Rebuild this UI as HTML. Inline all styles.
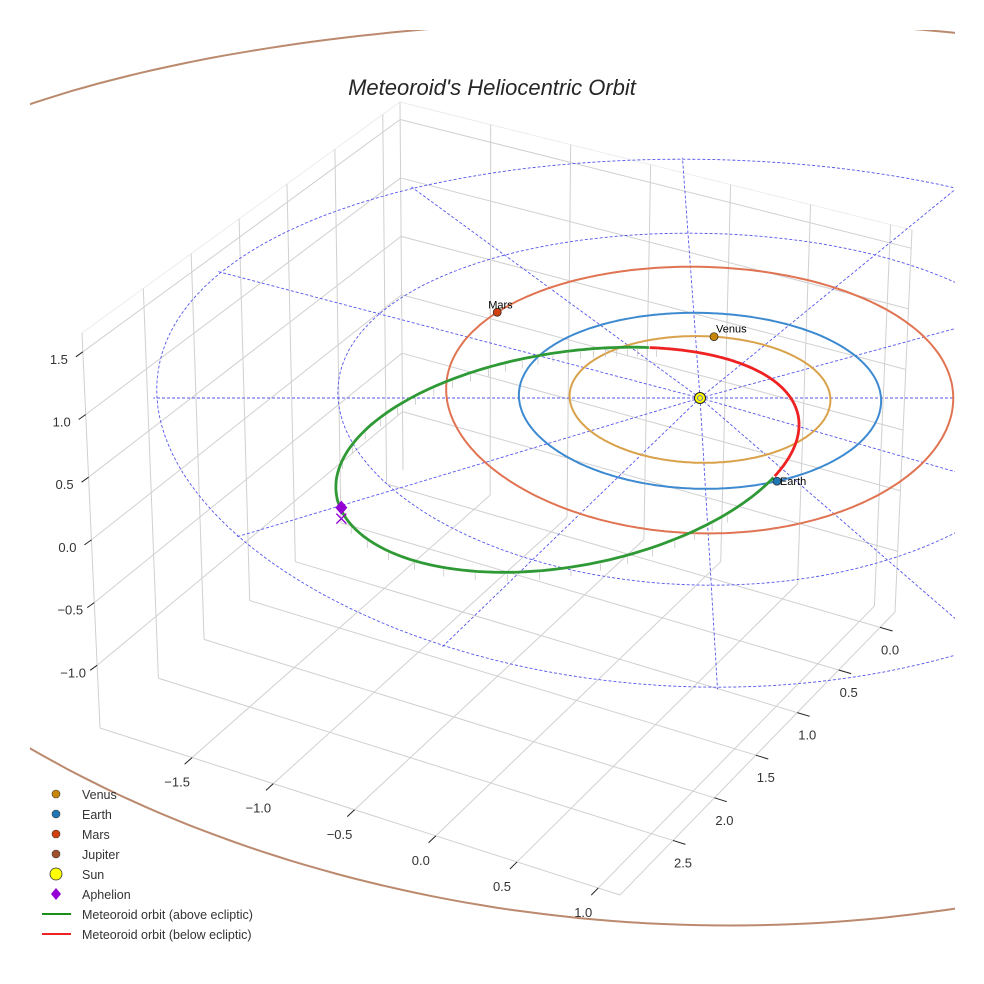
<!DOCTYPE html>
<html><head><meta charset="utf-8"><style>
html,body{margin:0;padding:0;background:#fff}
svg{display:block;font-family:"Liberation Sans",sans-serif}
</style></head><body>
<svg id="chart" xmlns="http://www.w3.org/2000/svg" width="984" height="984" viewBox="0 0 984 984">
<defs><clipPath id="clipArea"><rect x="30" y="30" width="925" height="900"/></clipPath></defs>
<rect width="984" height="984" fill="#fff"/>
<g id="box"></g>
<g id="plane" clip-path="url(#clipArea)"></g>
<text x="492" y="95" text-anchor="middle" font-size="22" font-style="italic" fill="#262626">Meteoroid's Heliocentric Orbit</text>
<g id="legend"></g>
</svg>
<script>
// ---- data ----
const xTicks = [-1.5, -1.0, -0.5, 0.0, 0.5, 1.0];
const yTicks = [0.0, 0.5, 1.0, 1.5, 2.0, 2.5];
const zTicks = [-1.0, -0.5, 0.0, 0.5, 1.0, 1.5];
const xRange = [-2.067, 1.134];
const yRange = [3.14, -0.18];
const zRange = [-1.5, 1.65];
const gridRings = [1, 2, 3];
const spokeAngles = [0, 30, 60, 90, 120, 150, 180, 210, 240, 270, 300, 330];
const planetNames = ["Venus", "Earth", "Mars", "Jupiter"];
const orbitSemiX = [0.72, 1.0, 1.40, 5.3];
const orbitSemiY = [0.72, 1.0, 1.52, 5.15];
const orbitOffY = [0, 0, -0.05, 0];
const planetAngle = [-82, 66.7, -141, null];
const meteorElements = [0.763, 0.686, -40.4]; // semi-latus rectum, eccentricity, perihelion angle
const belowNodes = [-114, 66.7];
const aphelionPoint = [-2.02, 1.2];

const NS = "http://www.w3.org/2000/svg";
function mk(parent, tag, attrs) {
  const e = document.createElementNS(NS, tag);
  for (const k in attrs) e.setAttribute(k, attrs[k]);
  parent.appendChild(e);
  return e;
}
function px(X, Y) { return 700 + 181 * X + 5.8 * Y; }
function py(X, Y) { return 398 + 88 * Y + 2.8 * Y * Y; }

// ---- box ----
const box = document.getElementById('box');
const Lb = [100, 728], Bb = [403, 470], Rb = [895, 612], Fb = [620, 895];
const Lt = [82, 333], Bt = [400, 102], Rt = [912, 230];
const lerp = (a, b, t) => [a[0] + (b[0] - a[0]) * t, a[1] + (b[1] - a[1]) * t];
function Q(u, s) { return lerp(lerp(Lb, Fb, u), lerp(Bb, Rb, u), s); }
const uOf = x => (x - xRange[0]) / (xRange[1] - xRange[0]);
const vOf = y => (y - yRange[0]) / (yRange[1] - yRange[0]);
const fOf = z => (z - zRange[0]) / (zRange[1] - zRange[0]);
function line(p, a, b, col, w, name) {
  const l = mk(p, 'line', {x1: a[0], y1: a[1], x2: b[0], y2: b[1], stroke: col, 'stroke-width': w});
  
  
  return l;
}
const gc = '#d0d0d0';
line(box, Lt, Bt, '#ececec', 1, 'pane-edge'); line(box, Bt, Rt, '#ececec', 1, 'pane-edge');
line(box, Lt, Lb, gc, 1, 'pane-edge'); line(box, Bt, Bb, gc, 1, 'pane-edge'); line(box, Rt, Rb, gc, 1, 'pane-edge');
line(box, Lb, Fb, gc, 1, 'pane-edge'); line(box, Fb, Rb, gc, 1, 'pane-edge');
zTicks.forEach(z => {
  const f = fOf(z);
  const a = lerp(Lb, Lt, f), b = lerp(Bb, Bt, f), c = lerp(Rb, Rt, f);
  line(box, a, b, gc, 1, 'z-gridline'); line(box, b, c, gc, 1, 'z-gridline');
  line(box, a, [a[0] - 7, a[1] + 5], '#222', 1, 'z-tick');
  const t = mk(box, 'text', {x: a[0] - 24, y: a[1] + 12, 'text-anchor': 'middle', 'font-size': 13, fill: '#333'});
  t.textContent = z.toFixed(1).replace('-', '\u2212');
  
  
});
xTicks.forEach(x => {
  const u = uOf(x);
  const a = Q(u, 0), b = Q(u, 1);
  line(box, a, b, gc, 1, 'x-gridline');
  line(box, b, lerp(Bt, Rt, u), gc, 1, 'x-gridline');
  const d = [a[0] - b[0], a[1] - b[1]], n = Math.hypot(d[0], d[1]);
  line(box, a, [a[0] + d[0] / n * 10, a[1] + d[1] / n * 10], '#222', 1, 'x-tick');
  const t = mk(box, 'text', {x: a[0] - 15, y: a[1] + 29, 'text-anchor': 'middle', 'font-size': 13, fill: '#333'});
  t.textContent = x.toFixed(1).replace('-', '\u2212');
  
  
});
yTicks.forEach(y => {
  const v = vOf(y);
  const a = Q(1, v), b = Q(0, v);
  line(box, a, b, gc, 1, 'y-gridline');
  line(box, b, lerp(Lt, Bt, v), gc, 1, 'y-gridline');
  const d = [a[0] - b[0], a[1] - b[1]], n = Math.hypot(d[0], d[1]);
  line(box, a, [a[0] + d[0] / n * 13, a[1] + d[1] / n * 13], '#222', 1, 'y-tick');
  const t = mk(box, 'text', {x: a[0] + 10, y: a[1] + 27, 'text-anchor': 'middle', 'font-size': 13, fill: '#333'});
  t.textContent = y.toFixed(1).replace('-', '\u2212');
  
  
});

// ---- plane ----
const plane = document.getElementById('plane');
function ptsEllipse(ax, ay, oy, t0, t1, step) {
  const pts = [];
  for (let t = t0; t <= t1 + 1e-9; t += step) {
    const r = t * Math.PI / 180;
    const X = ax * Math.cos(r), Y = oy + ay * Math.sin(r);
    pts.push(px(X, Y).toFixed(1) + ',' + py(X, Y).toFixed(1));
  }
  return pts.join(' ');
}
gridRings.forEach(R => {
  const p = mk(plane, 'polyline', {points: ptsEllipse(R, R, 0, 0, 360, 2), fill: 'none', stroke: '#5555ee', 'stroke-width': 0.9, 'stroke-dasharray': '3,2'});
  
  
});
spokeAngles.forEach(a => {
  const r = a * Math.PI / 180, R = 3.02;
  const X = R * Math.cos(r), Y = R * Math.sin(r);
  const l = mk(plane, 'line', {x1: 700, y1: 398, x2: px(X, Y), y2: py(X, Y), stroke: '#5555ee', 'stroke-width': 0.9, 'stroke-dasharray': '3,2'});
  
  
});
const orbitColors = ['#d9a24a', '#3d8ad0', '#e07452', '#bb8a6e'];
const planetColors = ['#c8860a', '#1f77b4', '#d04010', '#a0522d'];
[3, 2, 1, 0].forEach(i => {
  const p = mk(plane, 'polyline', {points: ptsEllipse(orbitSemiX[i], orbitSemiY[i], orbitOffY[i], 0, 360, 1), fill: 'none', stroke: orbitColors[i], 'stroke-width': 2});
  
  
});
const [pm, em, wm] = meteorElements;
function metPt(th) {
  const r = pm / (1 + em * Math.cos((th - wm) * Math.PI / 180));
  const a = th * Math.PI / 180;
  const X = r * Math.cos(a), Y = r * Math.sin(a);
  return [px(X, Y), py(X, Y)];
}
const green = [], red = [];
for (let th = belowNodes[1]; th <= belowNodes[0] + 360 + 0.01; th += 1) green.push(metPt(th));
for (let th = belowNodes[0]; th <= belowNodes[1] + 0.01; th += 1) red.push(metPt(th));
for (let th = 85; th <= 250; th += 4) {
  const p = metPt(th);
  const l = mk(plane, 'line', {x1: p[0], y1: p[1] + 2, x2: p[0], y2: p[1] + 9, stroke: '#c0c0c0', 'stroke-width': 0.7});
  
  
}
const gl = mk(plane, 'polyline', {points: green.map(p => p[0].toFixed(1) + ',' + p[1].toFixed(1)).join(' '), fill: 'none', stroke: '#2f9a35', 'stroke-width': 2.8});


const rl = mk(plane, 'polyline', {points: red.map(p => p[0].toFixed(1) + ',' + p[1].toFixed(1)).join(' '), fill: 'none', stroke: '#ee2222', 'stroke-width': 2.8});


[0, 1, 2].forEach(i => {
  const a = planetAngle[i] * Math.PI / 180;
  const X = orbitSemiX[i] * Math.cos(a), Y = orbitOffY[i] + orbitSemiY[i] * Math.sin(a);
  const x = px(X, Y), y = py(X, Y);
  const c = mk(plane, 'circle', {cx: x, cy: y, r: 4, fill: planetColors[i], stroke: '#222', 'stroke-width': 0.7});
  
  
  const t = mk(plane, 'text', {x: i === 1 ? x + 3 : x - 9 + (i === 0 ? 11 : 0), y: i === 1 ? y + 4 : y - 4, 'font-size': 11, fill: '#000'});
  t.textContent = planetNames[i];
  
  
});
const sun = mk(plane, 'circle', {cx: px(0, 0), cy: py(0, 0), r: 5.5, fill: '#ffff00', stroke: '#222', 'stroke-width': 1});


mk(plane, 'circle', {cx: px(0, 0), cy: py(0, 0), r: 2.5, fill: 'none', stroke: '#5555ee', 'stroke-width': 0.8});
const ax = px(aphelionPoint[0], aphelionPoint[1]), ay = py(aphelionPoint[0], aphelionPoint[1]);
const dm = mk(plane, 'polygon', {points: `${ax},${ay - 7} ${ax + 6},${ay} ${ax},${ay + 7} ${ax - 6},${ay}`, fill: '#9400d3'});


const xm = mk(plane, 'path', {d: `M${ax - 5},${ay + 6}L${ax + 5},${ay + 16}M${ax + 5},${ay + 6}L${ax - 5},${ay + 16}`, stroke: '#9400d3', 'stroke-width': 1.3, fill: 'none'});



// ---- legend ----
const lg = document.getElementById('legend');
const legendLabels = ["Venus", "Earth", "Mars", "Jupiter", "Sun", "Aphelion", "Meteoroid orbit (above ecliptic)", "Meteoroid orbit (below ecliptic)"];
const legendColors = ['#c8860a', '#1f77b4', '#d04010', '#a0522d', '#ffff00', '#9400d3', '#1a8f1a', '#ee2222'];
legendLabels.forEach((lab, i) => {
  const y = 795 + i * 20;
  let m;
  if (i < 4) m = mk(lg, 'circle', {cx: 56, cy: y - 1, r: 4, fill: legendColors[i], stroke: '#333', 'stroke-width': 0.6});
  else if (i === 4) m = mk(lg, 'circle', {cx: 56, cy: y - 1, r: 6, fill: legendColors[i], stroke: '#333', 'stroke-width': 0.8});
  else if (i === 5) m = mk(lg, 'polygon', {points: `56,${y - 7} 61,${y - 1} 56,${y + 5} 51,${y - 1}`, fill: legendColors[i]});
  else m = mk(lg, 'line', {x1: 42, y1: y - 1, x2: 71, y2: y - 1, stroke: legendColors[i], 'stroke-width': 2});
  
  
  const t = mk(lg, 'text', {x: 82, y: y + 4, 'font-size': 12.5, fill: '#333'});
  t.textContent = lab;
  
  
});
</script>
</body></html>
